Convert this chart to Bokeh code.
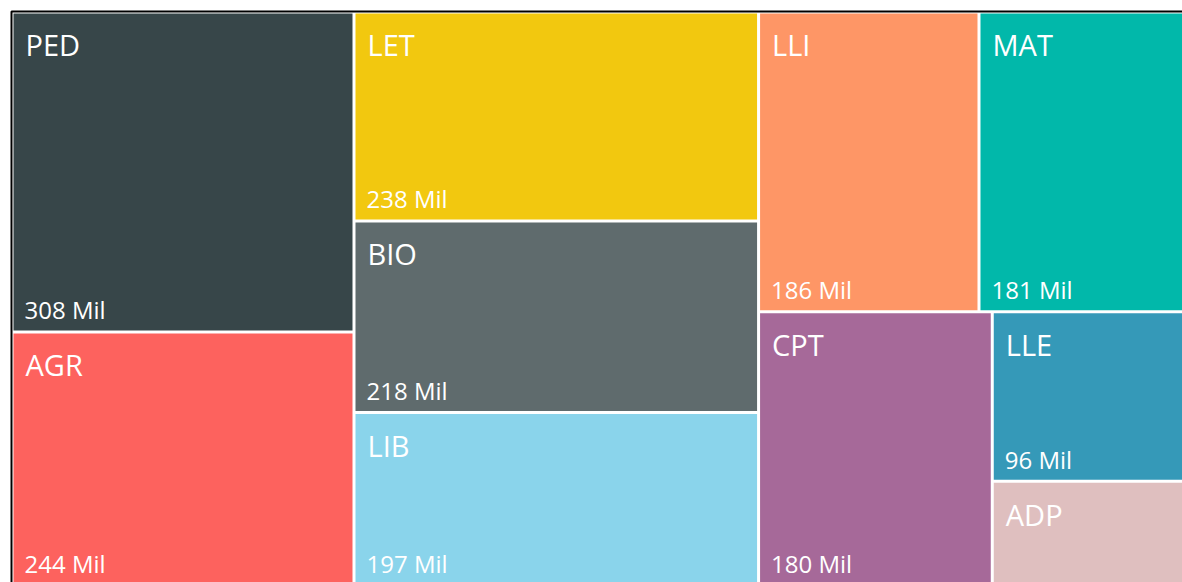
from bokeh.plotting import figure
from bokeh.models import Range1d, ColumnDataSource
from bokeh.core.properties import value
from bokeh.embed import file_html
from bokeh.resources import INLINE

# ---- data ----
categories = ["PED", "AGR", "LET", "BIO", "LIB", "LLI", "MAT", "CPT", "LLE", "ADP"]
amounts_mil = [308, 244, 238, 218, 197, 186, 181, 180, 96, 59]
colors = ["#374649", "#FD625E", "#F2C80F", "#5F6B6D", "#8AD4EB",
          "#FE9666", "#01B8AA", "#A66999", "#3599B8", "#DFBFBF"]


def squarify(vals, x0, y0, x1, y1, ratio=(1 + 5 ** 0.5) / 2):
    """d3-style squarified treemap (y grows downward)."""
    rects = [None] * len(vals)
    total = float(sum(vals))
    n = len(vals)
    i0 = 0
    while i0 < n:
        dx, dy = x1 - x0, y1 - y0
        i1 = i0
        s = vals[i1]
        i1 += 1
        mn = mx = s
        alpha = max(dy / dx, dx / dy) / (total * ratio)
        beta = s * s * alpha
        best = max(mx / beta, beta / mn)
        while i1 < n:
            v = vals[i1]
            s2 = s + v
            mn2, mx2 = min(mn, v), max(mx, v)
            beta = s2 * s2 * alpha
            r = max(mx2 / beta, beta / mn2)
            if r > best:
                break
            s, mn, mx, best = s2, mn2, mx2, r
            i1 += 1
        row = list(range(i0, i1))
        if dx < dy:
            ny = y0 + dy * s / total
            cx = x0
            for k in row:
                w = dx * vals[k] / s
                rects[k] = (cx, y0, cx + w, ny)
                cx += w
            y0 = ny
        else:
            nx = x0 + dx * s / total
            cy = y0
            for k in row:
                h = dy * vals[k] / s
                rects[k] = (x0, cy, nx, cy + h)
                cy += h
            x0 = nx
        total -= s
        i0 = i1
    return rects


W, H = 1182, 582
p = figure(width=W, height=H, output_backend="svg", toolbar_location=None,
           x_range=Range1d(0, W), y_range=Range1d(H, 0),
           min_border=0, outline_line_color=None,
           background_fill_color="white", border_fill_color="white")
p.axis.visible = False
p.grid.visible = False

# treemap area (extends slightly beyond the visible window, like the cropped original)
X0, Y0 = 11.5, 11.5
X1, Y1 = X0 + 1181.5, Y0 + 573.5
rects = squarify(amounts_mil, X0, Y0, X1, Y1)
g = 1.5

left = [r[0] + g for r in rects]
right = [r[2] - g for r in rects]
top = [r[1] + g for r in rects]
bottom = [r[3] - g for r in rects]

CAT_FS, VAL_FS = 29, 24
BASE_SHIFT = 0.44  # renderer's baseline offset, in em

src = ColumnDataSource(dict(left=left, right=right, top=top, bottom=bottom,
                            color=colors, cat=categories,
                            cx=[l + 12 for l in left],
                            cy=[t + 44 - BASE_SHIFT * CAT_FS for t in top]))
p.quad(left="left", right="right", top="top", bottom="bottom",
       fill_color="color", line_color=None, source=src)

p.text(x="cx", y="cy", text="cat", source=src, text_color="white",
       text_font=value("Open Sans"), text_font_size=f"{CAT_FS}px",
       text_baseline="alphabetic", text_align="left")

# value labels only where the tile is tall enough
vidx = [i for i in range(len(categories)) if bottom[i] - top[i] >= 120]
vsrc = ColumnDataSource(dict(x=[left[i] + 11 for i in vidx],
                             y=[bottom[i] - 10 - BASE_SHIFT * VAL_FS for i in vidx],
                             t=[f"{amounts_mil[i]} Mil" for i in vidx]))
p.text(x="x", y="y", text="t", source=vsrc, text_color="white",
       text_font=value("Open Sans"), text_font_size=f"{VAL_FS}px",
       text_baseline="alphabetic", text_align="left")

# dark frame on the top and left edges
p.quad(left=[11], right=[3000], top=[11], bottom=[3000],
       fill_color=None, line_color="black", line_width=2)

open("out.html", "w").write(file_html(p, INLINE))
